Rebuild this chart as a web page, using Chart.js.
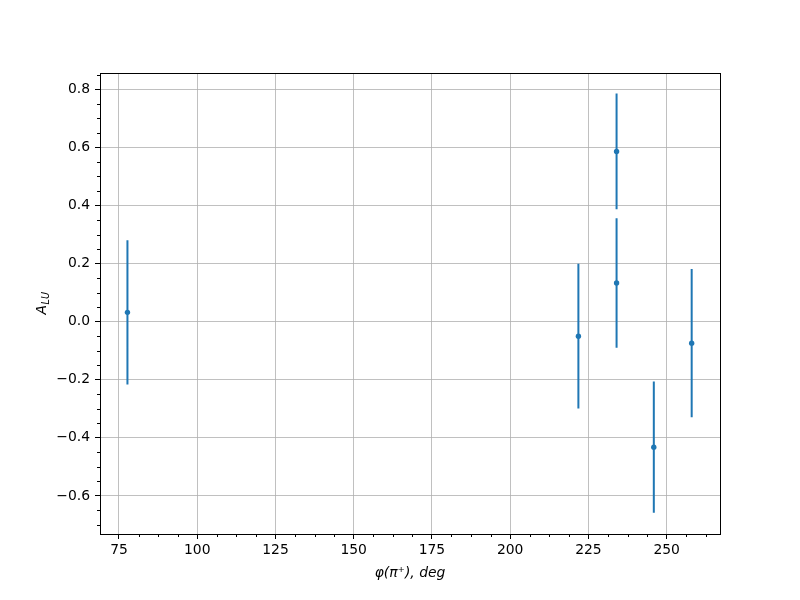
<!DOCTYPE html>
<html>
<head>
<meta charset="utf-8">
<script src="https://cdn.jsdelivr.net/npm/chart.js@4.4.1/dist/chart.umd.min.js"></script>
<style>
  html, body { margin: 0; padding: 0; background: #fff; }
  #wrap { width: 800px; height: 600px; position: relative; }
</style>
</head>
<body>
<div id="wrap"><canvas id="myChart"></canvas></div>
<script>
// values
const phi = [77.7, 221.8, 234.0, 234.0, 245.9, 258.0];
const alu = [0.032, -0.050, 0.586, 0.133, -0.432, -0.074];
const err = [0.248, 0.249, 0.199, 0.223, 0.226, 0.255];

const xTicks = [75, 100, 125, 150, 175, 200, 225, 250];
const yTicks = [-0.6, -0.4, -0.2, 0.0, 0.2, 0.4, 0.6, 0.8];

const blue = '#1f77b4';
const font = { family: '"DejaVu Sans"', size: 13.9 };

let points = phi.map((x, i) => ({ x: x, y: alu[i] }));
let bars = [];
phi.forEach((x, i) => {
    bars.push({ x: x, y: alu[i] - err[i] });
    bars.push({ x: x, y: alu[i] + err[i] });
    bars.push({ x: x, y: null });
});

const minorAndFrame = {
    id: 'minorAndFrame',
    afterDraw(chart) {
        const ctx = chart.ctx;
        const a = chart.chartArea;
        const sx = chart.scales.x, sy = chart.scales.y;
        ctx.save();
        ctx.strokeStyle = '#000';
        ctx.lineWidth = 1;
        ctx.beginPath();
        // minor ticks, x every 6.25
        for (let v = Math.ceil(sx.min / 6.25) * 6.25; v <= sx.max; v += 6.25) {
            if (Math.abs(v / 25 - Math.round(v / 25)) < 1e-6) continue;
            const px = Math.round(sx.getPixelForValue(v)) + 0.5;
            ctx.moveTo(px, a.bottom);
            ctx.lineTo(px, a.bottom + 3);
        }
        // minor ticks, y every 0.05
        for (let k = Math.ceil(sy.min / 0.05); k * 0.05 <= sy.max; k++) {
            if (k % 4 === 0) continue;
            const py = Math.round(sy.getPixelForValue(k * 0.05)) + 0.5;
            ctx.moveTo(a.left, py);
            ctx.lineTo(a.left - 3, py);
        }
        ctx.stroke();
        // full frame
        ctx.strokeRect(Math.round(a.left) + 0.5, Math.round(a.top) + 0.5,
                       Math.round(a.right - a.left), Math.round(a.bottom - a.top));
        // y title A_LU
        ctx.translate(42, (a.top + a.bottom) / 2);
        ctx.rotate(-Math.PI / 2);
        ctx.fillStyle = '#000';
        ctx.textBaseline = 'alphabetic';
        ctx.font = 'italic 13.9px "DejaVu Sans"';
        const wA = ctx.measureText('A').width;
        ctx.font = 'italic 9.7px "DejaVu Sans"';
        const wS = ctx.measureText('LU').width;
        const x0 = -(wA + wS) / 2;
        ctx.font = 'italic 13.9px "DejaVu Sans"';
        ctx.fillText('A', x0, 4);
        ctx.font = 'italic 9.7px "DejaVu Sans"';
        ctx.fillText('LU', x0 + wA + 0.5, 7);
        ctx.restore();
    }
};

const ctx = document.getElementById('myChart').getContext('2d');
const myChart = new Chart(ctx, {
    type: 'scatter',
    data: {
        datasets: [
            {
                label: 'err',
                data: bars,
                showLine: true,
                spanGaps: false,
                borderColor: blue,
                borderWidth: 2,
                pointRadius: 0
            },
            {
                label: 'A_LU',
                data: points,
                backgroundColor: blue,
                borderColor: blue,
                pointRadius: 2.7,
                pointBorderWidth: 0
            }
        ]
    },
    options: {
        responsive: true,
        maintainAspectRatio: false,
        animation: false,
        devicePixelRatio: 1,
        layout: { padding: { left: 0, top: 73, right: 80, bottom: 0 } },
        plugins: { legend: { display: false }, tooltip: { enabled: false } },
        scales: {
            x: {
                type: 'linear',
                min: 68.93,
                max: 267.05,
                afterBuildTicks: s => { s.ticks = xTicks.map(v => ({ value: v })); },
                afterFit: s => { s.height = 66; },
                grid: { color: '#b0b0b0', lineWidth: 0.8, tickColor: '#000', tickLength: 5, tickWidth: 1 },
                border: { display: false },
                ticks: { color: '#000', font: font, padding: 3, maxRotation: 0, autoSkip: false },
                title: {
                    display: true,
                    text: 'φ(π⁺), deg',
                    color: '#000',
                    font: { family: '"DejaVu Sans"', size: 13.9, style: 'italic' },
                    padding: { top: 0, bottom: 18 }
                }
            },
            y: {
                type: 'linear',
                min: -0.731,
                max: 0.856,
                afterBuildTicks: s => { s.ticks = yTicks.map(v => ({ value: v })); },
                afterFit: s => { s.width = 100; },
                grid: { color: '#b0b0b0', lineWidth: 0.8, tickColor: '#000', tickLength: 5, tickWidth: 1 },
                border: { display: false },
                ticks: {
                    color: '#000',
                    font: font,
                    padding: 5,
                    autoSkip: false,
                    callback: v => v.toFixed(1).replace('-', '\u2212')
                }
            }
        }
    },
    plugins: [minorAndFrame]
});
</script>
</body>
</html>
